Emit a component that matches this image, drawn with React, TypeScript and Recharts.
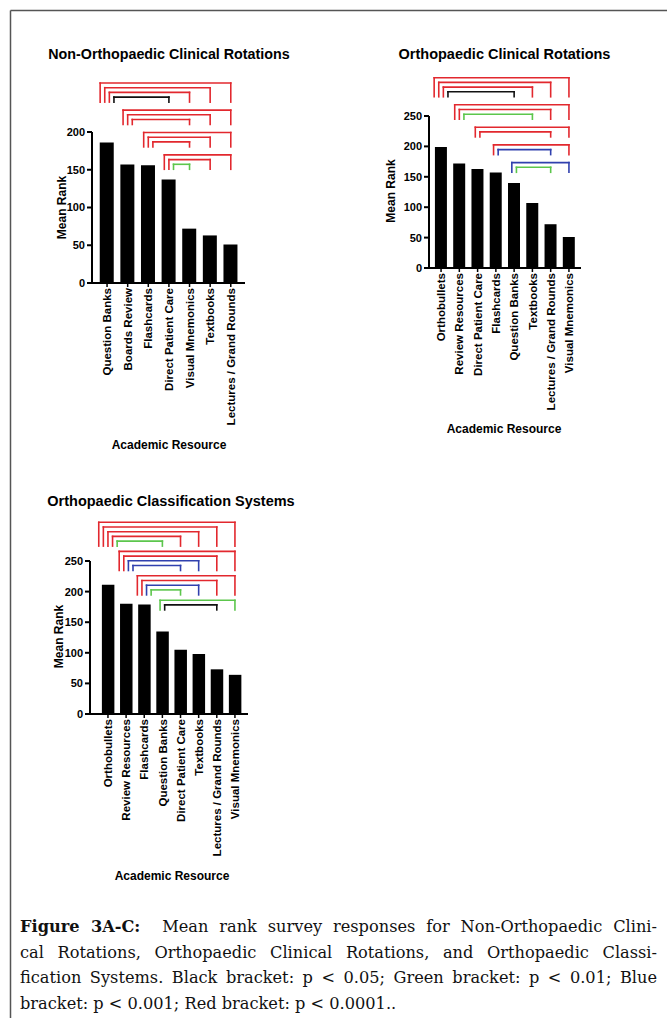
import React from 'react';
import { BarChart, Bar, XAxis, YAxis, ReferenceLine } from 'recharts';

// ---- data ----
const categoriesA = ['Question Banks', 'Boards Review', 'Flashcards', 'Direct Patient Care', 'Visual Mnemonics', 'Textbooks', 'Lectures / Grand Rounds'];
const meanRankA = [186, 157, 156, 137, 72, 63, 51];
// [from bar, to bar, significance]
const bracketsA: [number, number, string][] = [
  [0, 6, 'p<0.0001'], [0, 5, 'p<0.0001'], [0, 4, 'p<0.0001'], [0, 3, 'p<0.05'],
  [1, 6, 'p<0.0001'], [1, 5, 'p<0.0001'], [1, 4, 'p<0.0001'],
  [2, 6, 'p<0.0001'], [2, 5, 'p<0.0001'], [2, 4, 'p<0.0001'],
  [3, 6, 'p<0.0001'], [3, 5, 'p<0.0001'], [3, 4, 'p<0.01'],
];

const categoriesB = ['Orthobullets', 'Review Resources', 'Direct Patient Care', 'Flashcards', 'Question Banks', 'Textbooks', 'Lectures / Grand Rounds', 'Visual Mnemonics'];
const meanRankB = [199, 172, 163, 157, 140, 107, 72, 51];
const bracketsB: [number, number, string][] = [
  [0, 7, 'p<0.0001'], [0, 6, 'p<0.0001'], [0, 5, 'p<0.0001'], [0, 4, 'p<0.05'],
  [1, 7, 'p<0.0001'], [1, 6, 'p<0.0001'], [1, 5, 'p<0.01'],
  [2, 7, 'p<0.0001'], [2, 6, 'p<0.0001'],
  [3, 7, 'p<0.0001'], [3, 6, 'p<0.001'],
  [4, 7, 'p<0.001'], [4, 6, 'p<0.01'],
];

const categoriesC = ['Orthobullets', 'Review Resources', 'Flashcards', 'Question Banks', 'Direct Patient Care', 'Textbooks', 'Lectures / Grand Rounds', 'Visual Mnemonics'];
const meanRankC = [211, 180, 179, 135, 105, 98, 73, 64];
const bracketsC: [number, number, string][] = [
  [0, 7, 'p<0.0001'], [0, 6, 'p<0.0001'], [0, 5, 'p<0.0001'], [0, 4, 'p<0.0001'], [0, 3, 'p<0.01'],
  [1, 7, 'p<0.0001'], [1, 6, 'p<0.0001'], [1, 5, 'p<0.001'], [1, 4, 'p<0.001'],
  [2, 7, 'p<0.0001'], [2, 6, 'p<0.0001'], [2, 5, 'p<0.001'], [2, 4, 'p<0.01'],
  [3, 7, 'p<0.01'], [3, 6, 'p<0.05'],
];

const ticks200 = [0, 50, 100, 150, 200];
const ticks250 = [0, 50, 100, 150, 200, 250];

const SIG_COLOR: Record<string, string> = {
  'p<0.05': '#111111',
  'p<0.01': '#5cc64c',
  'p<0.001': '#3040ae',
  'p<0.0001': '#e2282e',
};

const FONT = '"Liberation Sans", Arial, Helvetica, sans-serif';
const STEP = 4.7; // px between nested brackets
const LEG = 5; // px of leg under the lowest bracket of a group
const SPREAD = 4.6; // px between left legs on the same bar

interface PanelProps {
  left: number;
  top: number;
  width: number;
  height: number;
  yAxisWidth: number;
  marginTop: number;
  marginRight: number;
  xAxisHeight: number;
  yMax: number;
  yTicks: number[];
  xDomain: [number, number];
  barSize: number;
  categories: string[];
  values: number[];
  brackets: [number, number, string][];
  bracketTop: number; // px above plot top of the first bracket
  bracketGap: number; // px between groups
}

const RotatedTick = (props: any) => {
  const { x, y, payload, labels } = props;
  return (
    <text
      x={x}
      y={y - 1}
      transform={`rotate(-90, ${x}, ${y - 1})`}
      textAnchor="end"
      dy="0.36em"
      fontFamily={FONT}
      fontWeight="bold"
      fontSize={11.5}
      fill="#000"
    >
      {labels[payload.value]}
    </text>
  );
};

function bracketSegments(p: PanelProps) {
  const plotH = p.height - p.marginTop - p.xAxisHeight;
  const plotW = p.width - p.yAxisWidth - p.marginRight;
  const yPerPx = p.yMax / plotH;
  const xPerPx = (p.xDomain[1] - p.xDomain[0]) / plotW;

  const groups: [number, number, string][][] = [];
  p.brackets.forEach((b) => {
    const g = groups[groups.length - 1];
    if (g && g[0][0] === b[0]) g.push(b);
    else groups.push([b]);
  });

  const segs: { key: string; color: string; pts: { x: number; y: number }[] }[] = [];
  let start = p.bracketTop;
  groups.forEach((g, gi) => {
    const n = g.length;
    const bottom = start - (n - 1) * STEP - LEG;
    const yBot = p.yMax + bottom * yPerPx;
    g.forEach(([from, to, sig], k) => {
      const yTop = p.yMax + (start - k * STEP) * yPerPx;
      const xL = from + (k - (n - 1) / 2) * SPREAD * xPerPx;
      const color = SIG_COLOR[sig];
      const id = `${gi}-${k}`;
      segs.push({ key: id + 'l', color, pts: [{ x: xL, y: yBot }, { x: xL, y: yTop }] });
      segs.push({ key: id + 't', color, pts: [{ x: xL, y: yTop }, { x: to, y: yTop }] });
      segs.push({ key: id + 'r', color, pts: [{ x: to, y: yTop }, { x: to, y: yBot }] });
    });
    start = bottom - p.bracketGap;
  });
  return segs;
}

const Panel: React.FC<PanelProps> = (p) => {
  const data = p.categories.map((name, i) => ({ idx: i, name, value: p.values[i] }));
  const segs = bracketSegments(p);
  return (
    <div style={{ position: 'absolute', left: p.left, top: p.top }}>
      <BarChart
        width={p.width}
        height={p.height}
        data={data}
        margin={{ top: p.marginTop, right: p.marginRight, left: 0, bottom: 0 }}
      >
        <XAxis
          dataKey="idx"
          type="number"
          domain={p.xDomain}
          allowDataOverflow
          ticks={data.map((d) => d.idx)}
          interval={0}
          height={p.xAxisHeight}
          axisLine={{ stroke: '#000', strokeWidth: 2 }}
          tickLine={{ stroke: '#000', strokeWidth: 1.5 }}
          tickSize={4}
          tick={<RotatedTick labels={p.categories} />}
        />
        <YAxis
          type="number"
          domain={[0, p.yMax]}
          allowDataOverflow
          ticks={p.yTicks}
          width={p.yAxisWidth}
          axisLine={{ stroke: '#000', strokeWidth: 2 }}
          tickLine={{ stroke: '#000', strokeWidth: 2 }}
          tickSize={5}
          tick={{ fill: '#000', fontFamily: FONT, fontWeight: 'bold', fontSize: 11 }}
        />
        <Bar dataKey="value" fill="#000" barSize={p.barSize} isAnimationActive={false} />
        {segs.map((s) => (
          <ReferenceLine
            key={s.key}
            segment={s.pts}
            stroke={s.color}
            strokeWidth={1.6}
            strokeLinecap="square"
            ifOverflow="visible"
          />
        ))}
      </BarChart>
    </div>
  );
};

const labelStyle = { fontFamily: FONT, fontWeight: 'bold' as const, fill: '#000' };
const justified = { textAlign: 'justify' as const, textAlignLast: 'justify' as const };

export default function App() {
  return (
    <div style={{ position: 'absolute', left: 0, top: 0, width: 667, height: 1018, background: '#fff', overflow: 'hidden' }}>
      <svg width={667} height={1018} style={{ position: 'absolute', left: 0, top: 0 }}>
        <line x1={10.5} y1={10.5} x2={10.5} y2={1018} stroke="#555" strokeWidth={1.5} />
        <line x1={10.5} y1={10.5} x2={667} y2={10.5} stroke="#555" strokeWidth={1.5} />
        <text x={169} y={58.5} textAnchor="middle" fontSize={14.3} {...labelStyle}>Non-Orthopaedic Clinical Rotations</text>
        <text x={504.5} y={59} textAnchor="middle" fontSize={14.5} {...labelStyle}>Orthopaedic Clinical Rotations</text>
        <text x={171} y={505.5} textAnchor="middle" fontSize={14.5} {...labelStyle}>Orthopaedic Classification Systems</text>

        <text x={66} y={207.5} transform="rotate(-90, 66, 207.5)" textAnchor="middle" fontSize={12} {...labelStyle}>Mean Rank</text>
        <text x={395} y={191} transform="rotate(-90, 395, 191)" textAnchor="middle" fontSize={12} {...labelStyle}>Mean Rank</text>
        <text x={63} y={636.5} transform="rotate(-90, 63, 636.5)" textAnchor="middle" fontSize={12} {...labelStyle}>Mean Rank</text>

        <text x={169} y={449.3} textAnchor="middle" fontSize={12} {...labelStyle}>Academic Resource</text>
        <text x={504} y={433.3} textAnchor="middle" fontSize={12} {...labelStyle}>Academic Resource</text>
        <text x={172} y={880} textAnchor="middle" fontSize={12} {...labelStyle}>Academic Resource</text>
      </svg>

      <Panel
        left={40} top={60} width={230} height={400}
        yAxisWidth={52} marginTop={72} marginRight={25} xAxisHeight={177}
        yMax={200} yTicks={ticks200} xDomain={[-0.73, 6.69]} barSize={14}
        categories={categoriesA} values={meanRankA} brackets={bracketsA}
        bracketTop={49} bracketGap={8}
      />
      <Panel
        left={380} top={60} width={220} height={380}
        yAxisWidth={49} marginTop={56} marginRight={19} xAxisHeight={172}
        yMax={250} yTicks={ticks250} xDomain={[-0.66, 7.66]} barSize={12}
        categories={categoriesB} values={meanRankB} brackets={bracketsB}
        bracketTop={38.3} bracketGap={8}
      />
      <Panel
        left={40} top={505} width={230} height={380}
        yAxisWidth={50} marginTop={56} marginRight={22} xAxisHeight={171}
        yMax={250} yTicks={ticks250} xDomain={[-0.99, 7.72]} barSize={12.5}
        categories={categoriesC} values={meanRankC} brackets={bracketsC}
        bracketTop={38.7} bracketGap={5.3}
      />

      <div
        style={{
          position: 'absolute',
          left: 20,
          top: 914,
          width: 637,
          fontFamily: '"DejaVu Serif", serif',
          fontSize: 16.2,
          lineHeight: '25.5px',
          color: '#111',
        }}
      >
        <div style={justified}>
          <b>Figure 3A-C:</b>{'\u00a0 '}Mean rank survey responses for Non-Orthopaedic Clini-
        </div>
        <div style={justified}>
          cal Rotations, Orthopaedic Clinical Rotations, and Orthopaedic Classi-
        </div>
        <div style={justified}>
          fication Systems. Black bracket: p &lt; 0.05; Green bracket: p &lt; 0.01; Blue
        </div>
        <div>bracket: p &lt; 0.001; Red bracket: p &lt; 0.0001..</div>
      </div>
    </div>
  );
}
